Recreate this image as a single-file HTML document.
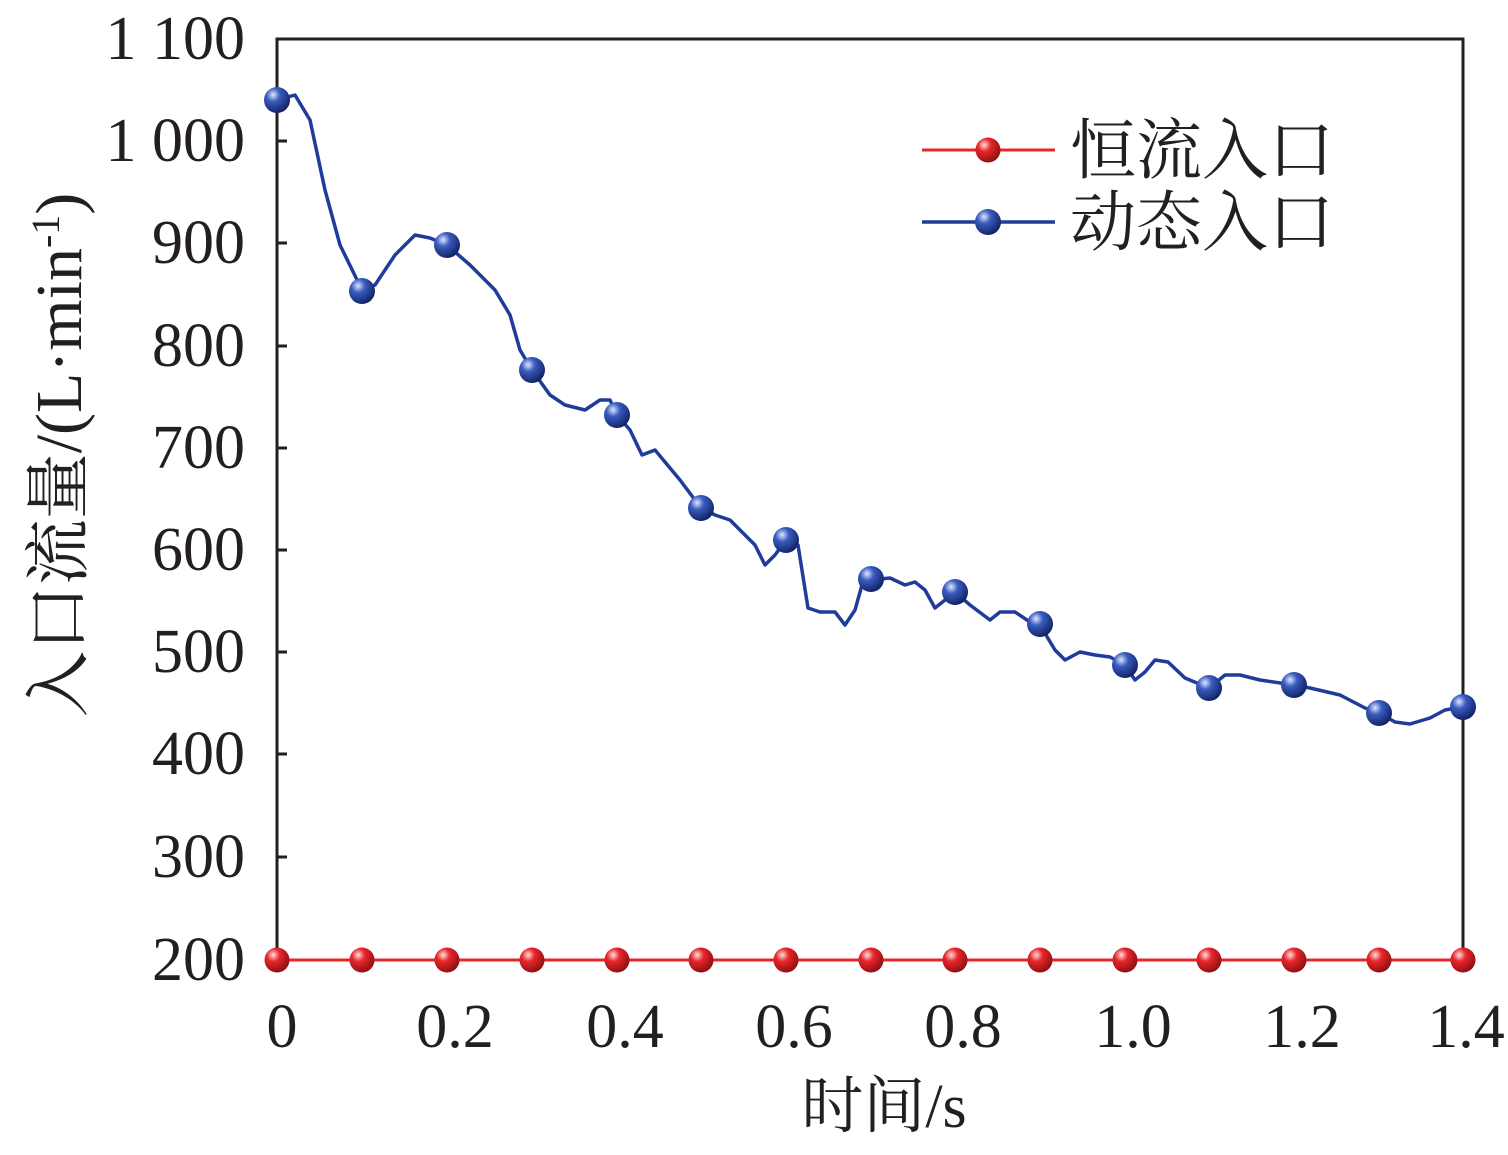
<!DOCTYPE html>
<html><head><meta charset="utf-8"><style>
html,body{margin:0;padding:0;background:#fff;}
svg text{font-family:"Liberation Serif","Noto Serif CJK SC",serif;fill:#231f20;}
</style></head><body>
<svg width="1508" height="1150" viewBox="0 0 1508 1150" xmlns="http://www.w3.org/2000/svg">
<defs>
<radialGradient id="gb" cx="0.35" cy="0.3" r="0.75">
<stop offset="0" stop-color="#dfe6ff"/><stop offset="0.35" stop-color="#3a5cc0"/><stop offset="1" stop-color="#0f1f5e"/>
</radialGradient>
<radialGradient id="gr" cx="0.35" cy="0.3" r="0.75">
<stop offset="0" stop-color="#ffe0e0"/><stop offset="0.35" stop-color="#e8262a"/><stop offset="1" stop-color="#8a0e10"/>
</radialGradient>
</defs>
<rect x="277" y="39" width="1186" height="921" fill="none" stroke="#231f20" stroke-width="3"/>
<g stroke="#231f20" stroke-width="3">
<line x1="277" y1="141" x2="287" y2="141"/><line x1="277" y1="243" x2="287" y2="243"/>
<line x1="277" y1="346" x2="287" y2="346"/><line x1="277" y1="448" x2="287" y2="448"/>
<line x1="277" y1="550" x2="287" y2="550"/><line x1="277" y1="652" x2="287" y2="652"/>
<line x1="277" y1="754" x2="287" y2="754"/><line x1="277" y1="857" x2="287" y2="857"/>
<line x1="447" y1="960" x2="447" y2="950"/><line x1="617" y1="960" x2="617" y2="950"/>
<line x1="786" y1="960" x2="786" y2="950"/><line x1="955" y1="960" x2="955" y2="950"/>
<line x1="1125" y1="960" x2="1125" y2="950"/><line x1="1294" y1="960" x2="1294" y2="950"/>
</g>
<g font-size="62" text-anchor="end">
<text x="245" y="59">1 100</text><text x="245" y="161">1 000</text>
<text x="245" y="263">900</text><text x="245" y="366">800</text>
<text x="245" y="468">700</text><text x="245" y="570">600</text>
<text x="245" y="672">500</text><text x="245" y="774">400</text>
<text x="245" y="877">300</text><text x="245" y="980">200</text>
</g>
<g font-size="62" text-anchor="middle">
<text x="282" y="1047">0</text><text x="455" y="1047">0.2</text>
<text x="625" y="1047">0.4</text><text x="794" y="1047">0.6</text>
<text x="963" y="1047">0.8</text><text x="1133" y="1047">1.0</text>
<text x="1302" y="1047">1.2</text><text x="1466" y="1047">1.4</text>
</g>
<text x="884" y="1127" font-size="62" text-anchor="middle">时间/s</text>
<text transform="translate(81,455) rotate(-90)" font-size="66" text-anchor="middle">入口流量/(L·min<tspan dy="-22" font-size="40">-1</tspan><tspan dy="22">)</tspan></text>
<line x1="277" y1="960" x2="1463" y2="960" stroke="#e8262a" stroke-width="3"/>
<polyline fill="none" stroke="#1f3c9b" stroke-width="3.5" stroke-linejoin="round" points="277,100 295,95 310,120 325,190 340,245 362,290 375,285 395,255 415,235 430,238 447,245 470,265 495,290 510,315 520,350 532,370 550,395 565,405 585,410 600,400 610,400 617,415 630,430 642,455 655,450 665,462 680,480 701,508 715,515 730,520 745,535 755,545 765,565 775,555 786,540 798,545 808,608 820,612 835,612 845,625 855,610 862,585 871,580 890,578 905,585 915,582 925,590 935,608 945,600 955,592 970,605 990,620 1000,612 1015,612 1030,622 1040,625 1055,650 1065,660 1080,652 1095,655 1110,657 1125,665 1135,680 1145,672 1155,660 1168,662 1185,678 1209,688 1225,675 1240,675 1260,680 1294,685 1310,688 1340,695 1365,708 1379,713 1395,722 1410,724 1430,718 1445,710 1463,707"/>
<g fill="url(#gr)">
<circle cx="277" cy="960" r="12.5"/><circle cx="362" cy="960" r="12.5"/><circle cx="447" cy="960" r="12.5"/>
<circle cx="532" cy="960" r="12.5"/><circle cx="617" cy="960" r="12.5"/><circle cx="701" cy="960" r="12.5"/>
<circle cx="786" cy="960" r="12.5"/><circle cx="871" cy="960" r="12.5"/><circle cx="955" cy="960" r="12.5"/>
<circle cx="1040" cy="960" r="12.5"/><circle cx="1125" cy="960" r="12.5"/><circle cx="1209" cy="960" r="12.5"/>
<circle cx="1294" cy="960" r="12.5"/><circle cx="1379" cy="960" r="12.5"/><circle cx="1463" cy="960" r="12.5"/>
</g>
<g fill="url(#gb)">
<circle cx="277" cy="100" r="13"/><circle cx="362" cy="291" r="13"/><circle cx="447" cy="245" r="13"/>
<circle cx="532" cy="370" r="13"/><circle cx="617" cy="415" r="13"/><circle cx="701" cy="508" r="13"/>
<circle cx="786" cy="540" r="13"/><circle cx="871" cy="579" r="13"/><circle cx="955" cy="592" r="13"/>
<circle cx="1040" cy="624" r="13"/><circle cx="1125" cy="665" r="13"/><circle cx="1209" cy="688" r="13"/>
<circle cx="1294" cy="685" r="13"/><circle cx="1379" cy="713" r="13"/><circle cx="1463" cy="707" r="13"/>
</g>
<line x1="922" y1="150" x2="1055" y2="150" stroke="#e8262a" stroke-width="3"/>
<circle cx="988" cy="150" r="12.5" fill="url(#gr)"/>
<line x1="922" y1="222" x2="1055" y2="222" stroke="#1f3c9b" stroke-width="3.5"/>
<circle cx="988" cy="222" r="13" fill="url(#gb)"/>
<text x="1070" y="173" font-size="66">恒流入口</text>
<text x="1070" y="245" font-size="66">动态入口</text>
</svg>
</body></html>
